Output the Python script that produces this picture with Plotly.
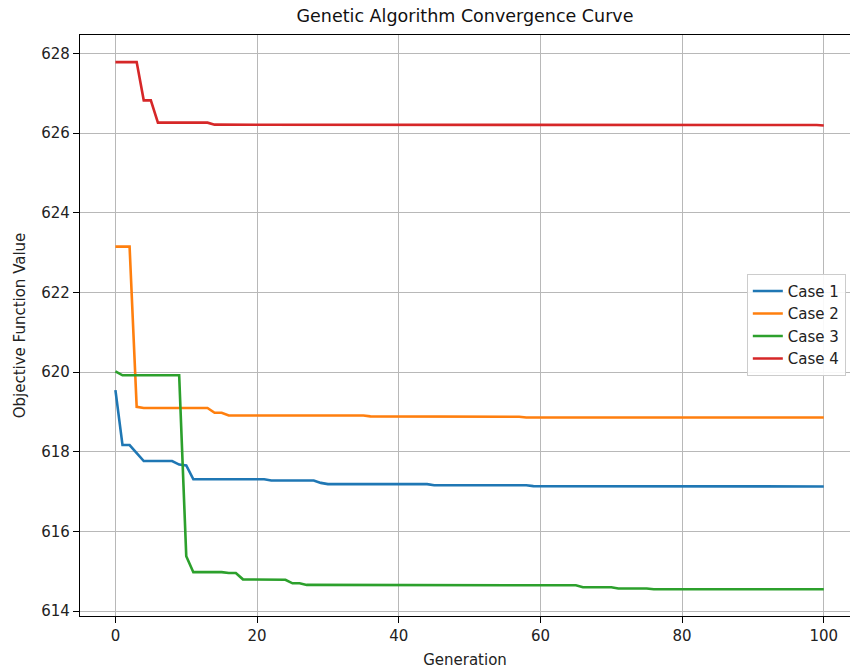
import plotly.graph_objects as go

generations = list(range(0, 101))

case1 = ([619.55] + [618.17] * 2 + [617.96] + [617.77] * 5 + [617.68] + [617.66]
         + [617.31] * 11 + [617.28] * 7 + [617.22] + [617.19] * 15 + [617.16] * 14
         + [617.14] * 26 + [617.13] * 16)
case2 = ([623.15] * 3 + [619.13] + [619.10] * 10 + [618.98] * 2 + [618.91] * 20
         + [618.89] * 17 + [618.88] * 5 + [618.86] * 43)
case3 = ([620.02] + [619.92] * 9 + [615.38] + [614.98] * 5 + [614.96] * 2
         + [614.80] * 6 + [614.79] + [614.70] * 2 + [614.66] * 9 + [614.65] * 30
         + [614.60] * 5 + [614.57] * 5 + [614.55] * 25)
case4 = ([627.78] * 4 + [626.82] * 2 + [626.26] * 8 + [626.21] * 20
         + [626.20] * 66 + [626.19])

series_names = ["Case 1", "Case 2", "Case 3", "Case 4"]
series_values = [case1, case2, case3, case4]
colors = ["#1f77b4", "#ff7f0e", "#2ca02c", "#d62728"]

x_ticks = [0, 20, 40, 60, 80, 100]
y_ticks = [614, 616, 618, 620, 622, 624, 626, 628]

fig = go.Figure()
for name, vals, c in zip(series_names, series_values, colors):
    fig.add_trace(go.Scatter(x=generations, y=vals, mode="lines", name=name,
                             line=dict(color=c, width=2.6)))

font = "DejaVu Sans, sans-serif"
axis_common = dict(
    showgrid=True, gridcolor="#b8b8b8", gridwidth=1.4,
    showline=True, linecolor="black", linewidth=1.4,
    ticks="outside", ticklen=6, tickwidth=1.3, tickcolor="black",
    zeroline=False, tickfont=dict(family=font, size=15, color="#222"),
)

fig.update_layout(
    width=850, height=671,
    margin=dict(l=80, r=0, t=35, b=55),
    paper_bgcolor="white", plot_bgcolor="white",
    title=dict(text="Genetic Algorithm Convergence Curve", x=0.5, xref="paper",
               y=1 - 16 / 671, yref="container", yanchor="middle",
               font=dict(family=font, size=17.5, color="#111")),
    xaxis=dict(range=[-5.0, 103.7], tickvals=x_ticks, mirror=True,
               title=dict(text="Generation", standoff=10,
                          font=dict(family=font, size=15, color="#222")),
               **axis_common),
    yaxis=dict(range=[613.88, 628.46], tickvals=y_ticks, mirror=False,
               title=dict(text="Objective Function Value", standoff=11,
                          font=dict(family=font, size=15, color="#222")),
               **axis_common),
    legend=dict(x=0.866, y=0.589, xanchor="left", yanchor="top",
                bgcolor="rgba(255,255,255,0.9)", bordercolor="#cccccc", borderwidth=1,
                font=dict(family=font, size=15, color="#222"), itemwidth=30,
                tracegroupgap=0),
    showlegend=True,
)

fig.write_html("out.html")
